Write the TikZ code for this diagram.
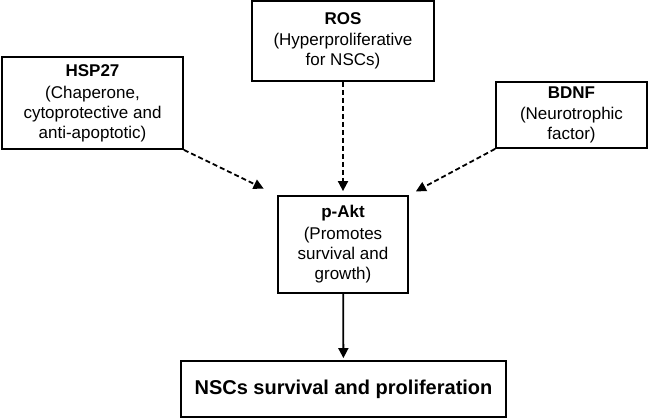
\documentclass[tikz,border=0pt]{standalone}
\usepackage{fontspec}
\setmainfont{Liberation Sans}
\usetikzlibrary{arrows.meta,positioning}
\tikzset{
  factor/.style={draw=black,line width=1.8pt,align=center,inner sep=2pt,
    font=\fontsize{17}{20}\selectfont},
  target/.style={factor,minimum width=130pt,minimum height=97pt},
  outcome/.style={draw=black,line width=1.8pt,align=center,
    minimum width=325pt,minimum height=56pt,
    font=\fontsize{20}{24}\selectfont\bfseries},
  arrow/.style={-{Triangle[length=10pt,width=10pt]},line width=1.8pt,draw=black},
  dashedarrow/.style={arrow,dash pattern=on 5pt off 3pt}
}

\begin{document}
\begin{tikzpicture}[x=1pt,y=1pt]
  \useasboundingbox (0,0) rectangle (650,419);
  \node[factor,minimum width=181pt,minimum height=92pt] (hsp) at (92.5,316)
    {\textbf{HSP27}\\[2pt](Chaperone,\\cytoprotective and\\anti-apoptotic)};
  \node[factor,minimum width=182pt,minimum height=80pt] (ros) at (343,378)
    {\textbf{ROS}\\[1pt](Hyperproliferative\\for NSCs)};
  \node[factor,minimum width=151pt,minimum height=66pt] (bdnf) at (571.5,304)
    {\textbf{BDNF}\\[1pt](Neurotrophic\\factor)};
  \node[target] (pakt) at (343,174.5)
    {\textbf{p-Akt}\\[2pt](Promotes\\survival and\\growth)};
  \node[outcome] (result) at (343.5,30) {NSCs survival and proliferation};
  \draw[dashedarrow,shorten >=15pt] (hsp.south east) -- (pakt.north west);
  \draw[dashedarrow,shorten >=4pt] (ros) -- (pakt);
  \draw[dashedarrow,shorten >=8pt] (bdnf.south west) -- (pakt.north east);
  \draw[arrow,shorten >=2pt] (pakt) -- (result);
\end{tikzpicture}
\end{document}
